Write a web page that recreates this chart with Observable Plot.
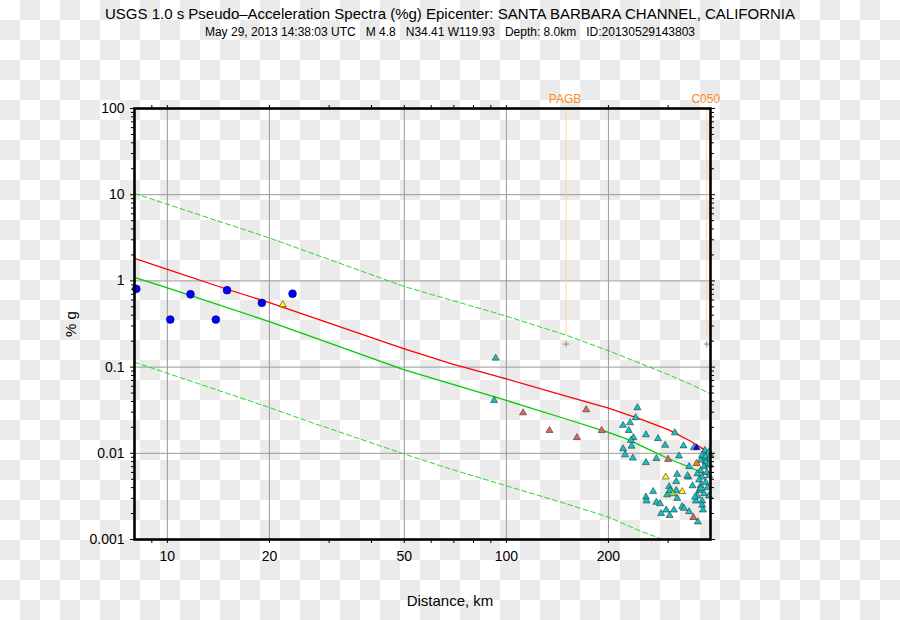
<!DOCTYPE html>
<html>
<head>
<meta charset="utf-8">
<script src="https://cdn.jsdelivr.net/npm/d3@7"></script>
<script src="https://cdn.jsdelivr.net/npm/@observablehq/plot@0.6"></script>
<style>
html,body{margin:0;padding:0;}
body{width:900px;height:620px;overflow:hidden;
  background:repeating-conic-gradient(#ebebeb 0% 25%, #ffffff 0% 50%) 0 0/40px 40px;
  font-family:"Liberation Sans", Arial, Helvetica, sans-serif;}
#wrap{position:relative;width:900px;height:620px;}
.t{position:absolute;left:0;width:900px;text-align:center;white-space:pre;color:#000;line-height:1;}
#chart{position:absolute;left:0;top:0;}
#ylab{position:absolute;left:70px;top:324px;transform:translate(-50%,-50%) rotate(-90deg);font-size:15px;white-space:pre;line-height:1;}
</style>
</head>
<body>
<div id="wrap">
  <div id="chart"></div>
  <div class="t" style="top:6px;font-size:15px;">USGS 1.0 s Pseudo–Acceleration Spectra (%g) Epicenter: SANTA BARBARA CHANNEL, CALIFORNIA</div>
  <div class="t" style="top:26px;font-size:12px;">May 29, 2013 14:38:03 UTC   M 4.8   N34.41 W119.93   Depth: 8.0km   ID:20130529143803</div>
  <div class="t" style="top:593px;font-size:15px;">Distance, km</div>
  <div id="ylab">% g</div>
</div>
<script>
// ---- axes / ticks ----
const xMajorTicks = [10, 20, 50, 100, 200];
const xTickLabels = ["10", "20", "50", "100", "200"];
const xMinorTicks = [9, 30, 40, 60, 70, 80, 90, 300];
const yMajorTicks = [0.001, 0.01, 0.1, 1, 10, 100];
const yTickLabels = ["0.001", "0.01", "0.1", "1", "10", "100"];
const yMinorTicks = [];
[0.001, 0.01, 0.1, 1, 10].forEach(d => { for (let k = 2; k <= 9; k++) yMinorTicks.push(+(d * k).toPrecision(3)); });

// ---- prediction curves ----
const redDist   = [8, 10, 15, 20, 28.3, 50, 69, 100, 150, 200, 250, 300, 350, 400];
const redVal    = [1.83, 1.36, 0.80, 0.56, 0.35, 0.163, 0.109, 0.073, 0.0462, 0.0335, 0.0248, 0.0188, 0.0138, 0.0099];
const greenDist = [8, 10, 20, 28.3, 50, 100, 150, 200, 225, 250, 300, 350, 400];
const greenVal  = [1.10, 0.83, 0.337, 0.207, 0.093, 0.041, 0.025, 0.0175, 0.0148, 0.0122, 0.0087, 0.0068, 0.0054];
const upperDist = [8, 20, 50, 100, 150, 200, 238, 300, 350, 400];
const upperVal  = [10.35, 3.15, 0.86, 0.39, 0.235, 0.155, 0.118, 0.082, 0.063, 0.049];
const lowerDist = [8, 20, 25.6, 50, 69, 100, 150, 200, 250, 290, 300];
const lowerVal  = [0.114, 0.034, 0.024, 0.0098, 0.0065, 0.0042, 0.0026, 0.00182, 0.00124, 0.001, 0.00092];

// ---- stations ----
const stationNames = ["PAGB", "C050"];
const stationDist  = [150, 390];
const stationPlus  = [0.185, 0.185];
const stationLineEnd = [0.23, 0.23];

// ---- observations ----
const circleDist = [8.1, 10.2, 11.7, 13.9, 15.0, 19.0, 23.4];
const circleVal  = [0.81, 0.356, 0.70, 0.356, 0.78, 0.556, 0.71];

const cyanDist = [93, 92, 243.5, 240.6, 231.6, 220.8, 229.6, 237, 233, 234, 221, 224, 236, 258, 280, 294, 314, 333, 323, 277,
  357, 385, 385, 258, 374, 387, 383, 396, 374, 390, 366, 378, 396, 370, 387, 374, 392, 370, 383, 396,
  366, 378, 362, 378, 319, 344, 317, 302, 271, 319, 258, 259, 277, 284, 296, 312, 286, 303, 330, 334,
  346, 367, 380, 360, 298, 304, 317, 346, 354, 342, 374, 378, 387, 396, 400, 396];
const cyanVal  = [0.127, 0.041, 0.0338, 0.0259, 0.0226, 0.0211, 0.0184, 0.0152, 0.0141, 0.0121, 0.0113, 0.0096, 0.0088, 0.0164, 0.0148, 0.0124, 0.0173, 0.0122, 0.0093, 0.0087,
  0.0116, 0.0108, 0.0087, 0.0078, 0.0083, 0.0079, 0.0070, 0.0073, 0.0063, 0.0060, 0.0058, 0.0053, 0.0055, 0.0049, 0.0046, 0.0042, 0.0040, 0.0037, 0.0034, 0.0032,
  0.0032, 0.0028, 0.0028, 0.0025, 0.0057, 0.0053, 0.0047, 0.0041, 0.0036, 0.0030, 0.0031, 0.0028, 0.0027, 0.0026, 0.0022, 0.0022, 0.0020, 0.0019, 0.0024, 0.0023,
  0.0021, 0.0016, 0.0022, 0.0031, 0.0033, 0.0037, 0.0037, 0.0070, 0.0042, 0.0055, 0.0039, 0.0095, 0.0092, 0.0076, 0.0095, 0.0104];
const redTriDist = [112, 134, 161.5, 172, 191, 300, 356];
const redTriVal  = [0.0295, 0.0184, 0.0152, 0.032, 0.0184, 0.0085, 0.0018];
const yellowDist = [21.9, 295, 330];
const yellowVal  = [0.53, 0.0053, 0.0036];
const orangeDist = [364];
const orangeVal  = [0.0076];
const limeDist   = [310];
const limeVal    = [0.0034];
const blueTriDist = [364];
const blueTriVal  = [0.0116];

const zipXY = (xs, ys) => xs.map((x, i) => ({x, y: ys[i]}));
const stations = stationNames.map((name, i) => ({name, x: stationDist[i], plus: stationPlus[i], end: stationLineEnd[i]}));

const triOpts = (fill) => ({x: "x", y: "y", symbol: "triangle", r: 2.6, fill, stroke: "#333", strokeWidth: 0.6});

const plot = Plot.plot({
  width: 900,
  height: 620,
  marginLeft: 134,
  marginRight: 190,
  marginTop: 108,
  marginBottom: 81,
  style: {background: "transparent", fontFamily: "'Liberation Sans', Arial, sans-serif", fontSize: "14px", color: "#000", overflow: "visible"},
  x: {type: "log", domain: [8, 400]},
  y: {type: "log", domain: [0.001, 100]},
  marks: [
    Plot.gridX({ticks: xMajorTicks, stroke: "#999", strokeOpacity: 1, strokeWidth: 1}),
    Plot.gridY({ticks: yMajorTicks, stroke: "#999", strokeOpacity: 1, strokeWidth: 1}),
    Plot.ruleX(stations, {x: "x", y1: 100, y2: "end", stroke: "#ffd39c", strokeWidth: 1}),
    Plot.dot(stations, {x: "x", y: "plus", symbol: "plus", r: 2.2, stroke: "#888", strokeWidth: 1}),
    Plot.text(stations, {x: "x", text: "name", frameAnchor: "top", dy: -14, dx: -1, fill: "#ff8a1c", fontSize: 12}),
    Plot.line(zipXY(upperDist, upperVal), {x: "x", y: "y", stroke: "#22dd22", strokeWidth: 1, strokeDasharray: "5,3", clip: true}),
    Plot.line(zipXY(lowerDist, lowerVal), {x: "x", y: "y", stroke: "#22dd22", strokeWidth: 1, strokeDasharray: "5,3", clip: true}),
    Plot.line(zipXY(greenDist, greenVal), {x: "x", y: "y", stroke: "#00cc00", strokeWidth: 1.3, clip: true}),
    Plot.line(zipXY(redDist, redVal), {x: "x", y: "y", stroke: "#ff0000", strokeWidth: 1.3, clip: true}),
    Plot.dot(zipXY(circleDist, circleVal), {x: "x", y: "y", r: 3.9, fill: "#0000ff", stroke: "#000066", strokeWidth: 0.6}),
    Plot.dot(zipXY(cyanDist, cyanVal), triOpts("#10c4c4")),
    Plot.dot(zipXY(redTriDist, redTriVal), triOpts("#e46464")),
    Plot.dot(zipXY(yellowDist, yellowVal), triOpts("#ffff00")),
    Plot.dot(zipXY(orangeDist, orangeVal), triOpts("#ff7a00")),
    Plot.dot(zipXY(limeDist, limeVal), triOpts("#88dd44")),
    Plot.dot(zipXY(blueTriDist, blueTriVal), triOpts("#0000ff")),
    Plot.axisX({ticks: xMajorTicks, tickFormat: d => xTickLabels[xMajorTicks.indexOf(d)], tickSize: 4, tickPadding: 8, label: null, stroke: "#000", fontSize: 14}),
    Plot.axisX({ticks: xMinorTicks, tickFormat: () => "", tickSize: 4, label: null}),
    Plot.axisX({anchor: "top", ticks: xMajorTicks.concat(xMinorTicks), tickFormat: () => "", tickSize: 4, label: null}),
    Plot.axisY({ticks: yMajorTicks, tickFormat: d => yTickLabels[yMajorTicks.indexOf(d)], tickSize: 4, tickPadding: 6, label: null, fontSize: 14}),
    Plot.axisY({ticks: yMinorTicks, tickFormat: () => "", tickSize: 3, label: null}),
    Plot.axisY({anchor: "right", ticks: yMajorTicks, tickFormat: () => "", tickSize: 4, label: null}),
    Plot.axisY({anchor: "right", ticks: yMinorTicks, tickFormat: () => "", tickSize: 3, label: null}),
    Plot.frame({stroke: "#000", strokeWidth: 2.6})
  ]
});
document.getElementById("chart").appendChild(plot);
</script>
</body>
</html>
